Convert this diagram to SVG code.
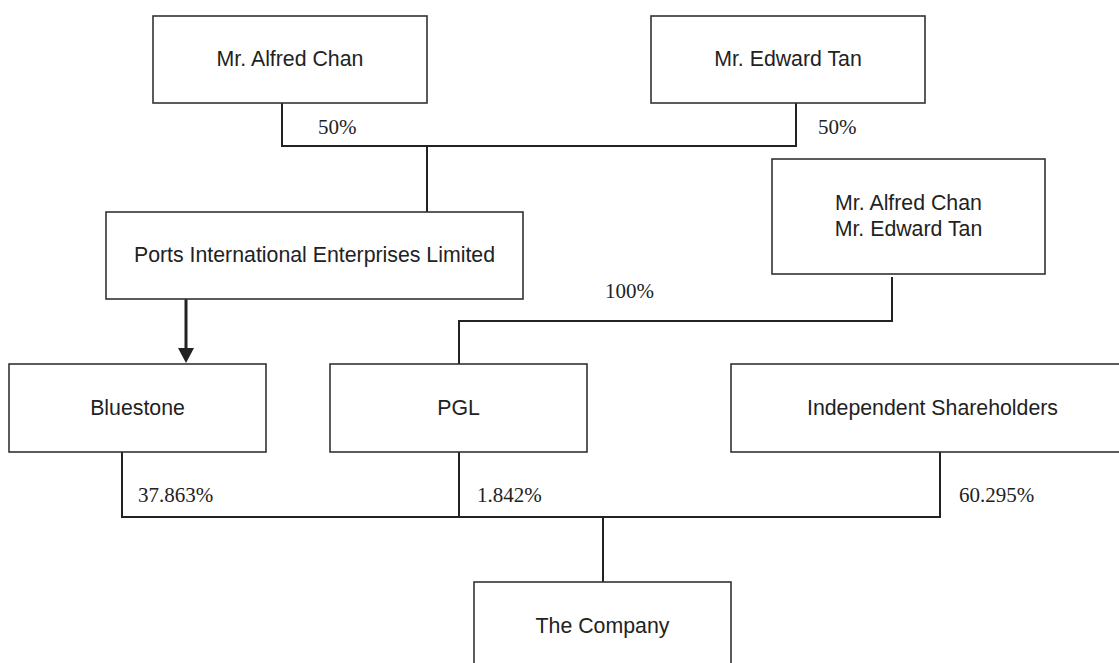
<svg xmlns="http://www.w3.org/2000/svg" width="1119" height="663" viewBox="0 0 1119 663">
<style>
.box{fill:#fff;stroke:#333;stroke-width:1.6}
.lbl{font-family:"Liberation Sans",Arial,sans-serif;font-size:21.3px;fill:#222;text-anchor:middle}
.pct{font-family:"Liberation Serif","Times New Roman",serif;font-size:21px;fill:#222}
.ln{fill:none;stroke:#222;stroke-width:2}
</style>
<defs>
<marker id="arr" markerWidth="16" markerHeight="15" refX="8" refY="15" orient="auto-start-reverse" markerUnits="userSpaceOnUse" viewBox="0 0 16 15">
<path d="M0,0 L16,0 L8,15 Z" fill="#222"/>
</marker>
</defs>
<rect width="1119" height="663" fill="#fff"/>
<g id="connectors">
<polyline class="ln" points="282,103 282,146 796,146 796,103"/>
<line class="ln" x1="427" y1="146" x2="427" y2="212"/>
<line x1="186" y1="299" x2="186" y2="348" stroke="#222" stroke-width="3"/>
<path d="M178,348 L194,348 L186,363 Z" fill="#222"/>
<polyline class="ln" points="459,364 459,321 892,321 892,277"/>
<polyline class="ln" points="122,452 122,517 940,517 940,452"/>
<line class="ln" x1="459" y1="452" x2="459" y2="517"/>
<line class="ln" x1="603" y1="517" x2="603" y2="582"/>
</g>
<g id="pct-labels">
<text class="pct" x="318" y="134">50%</text>
<text class="pct" x="818" y="134">50%</text>
<text class="pct" x="605" y="298">100%</text>
<text class="pct" x="138" y="502">37.863%</text>
<text class="pct" x="477" y="502">1.842%</text>
<text class="pct" x="959" y="502">60.295%</text>
</g>
<g id="node-alfred">
<rect class="box" x="153" y="16" width="274" height="87"/>
<text class="lbl" x="290" y="66">Mr. Alfred Chan</text>
</g>
<g id="node-edward">
<rect class="box" x="651" y="16" width="274" height="87"/>
<text class="lbl" x="788" y="66">Mr. Edward Tan</text>
</g>
<g id="node-piel">
<rect class="box" x="106" y="212" width="417" height="87"/>
<text class="lbl" x="314.5" y="262">Ports International Enterprises Limited</text>
</g>
<g id="node-both">
<rect class="box" x="772" y="159" width="273" height="115"/>
<text class="lbl" x="908.5" y="210">Mr. Alfred Chan</text>
<text class="lbl" x="908.5" y="236">Mr. Edward Tan</text>
</g>
<g id="node-bluestone">
<rect class="box" x="9" y="364" width="257" height="88"/>
<text class="lbl" x="137.5" y="415">Bluestone</text>
</g>
<g id="node-pgl">
<rect class="box" x="330" y="364" width="257" height="88"/>
<text class="lbl" x="458.5" y="415">PGL</text>
</g>
<g id="node-independent">
<rect class="box" x="731" y="364" width="403" height="88"/>
<text class="lbl" x="932.5" y="415">Independent Shareholders</text>
</g>
<g id="node-company">
<rect class="box" x="474" y="582" width="257" height="100"/>
<text class="lbl" x="602.5" y="633">The Company</text>
</g>
</svg>
